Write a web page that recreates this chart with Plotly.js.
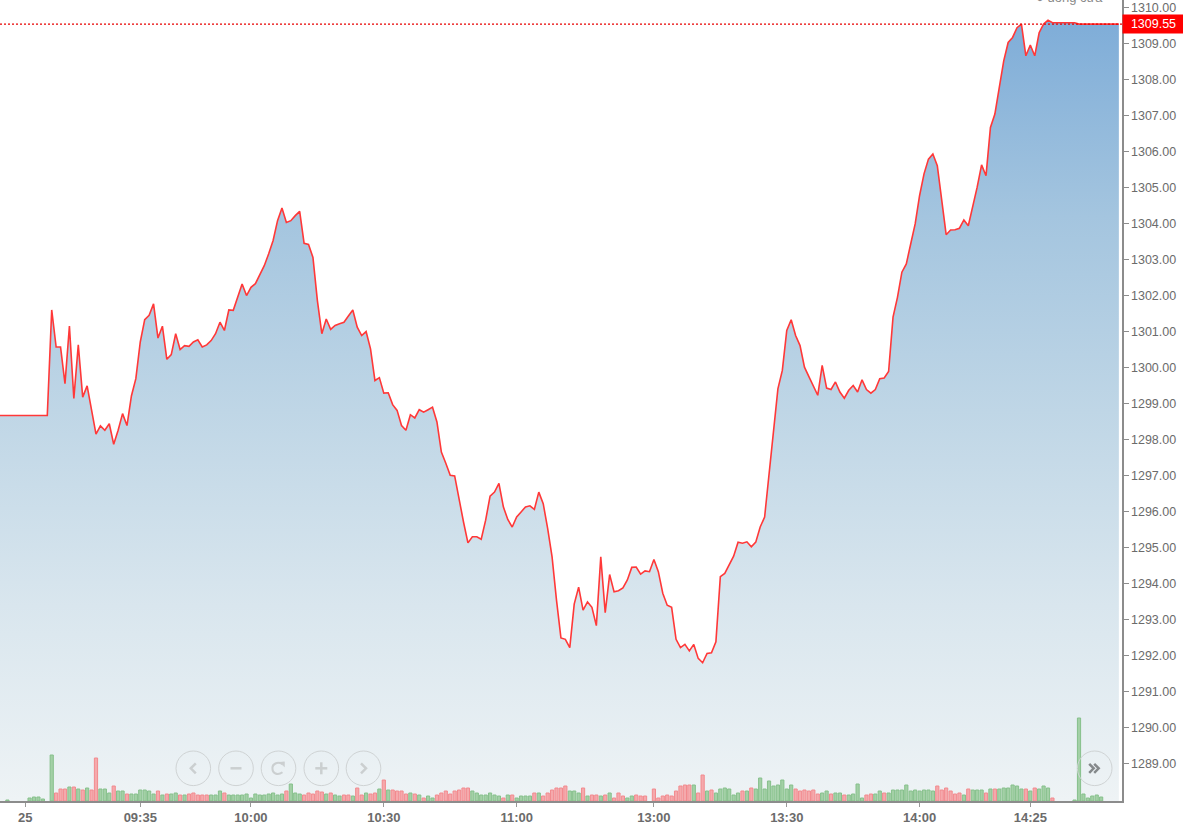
<!DOCTYPE html>
<html>
<head>
<meta charset="utf-8">
<script src="https://cdn.plot.ly/plotly-3.0.1.min.js"></script>
<style>html,body{margin:0;padding:0;background:#fff;overflow:hidden}#chart{width:1183px;height:826px}</style>
</head>
<body>
<div id="chart"></div>
<script>
// One value per minute slot.
const price = [
1298.68,1298.68,1298.68,1298.68,1298.68,1298.68,1298.68,1298.68,1298.68,1298.68,1298.68,1298.68,
1301.61,1300.58,1300.58,1299.56,1301.16,1299.15,1300.64,1299.19,1299.5,1298.82,
1298.16,1298.39,1298.27,1298.45,1297.88,1298.27,1298.73,1298.4,1299.22,1299.7,
1300.72,1301.34,1301.46,1301.78,1300.83,1301.16,1300.24,1300.37,1300.95,1300.51,
1300.62,1300.6,1300.72,1300.78,1300.58,1300.64,1300.76,1300.95,1301.27,1301.04,
1301.61,1301.6,1301.96,1302.33,1302.01,1302.24,1302.34,1302.57,1302.84,1303.17,
1303.54,1304.09,1304.44,1304.04,1304.09,1304.23,1304.35,1303.46,1303.43,1303.07,
1301.87,1300.95,1301.36,1301.07,1301.18,1301.23,1301.27,1301.44,1301.61,1301.13,
1300.9,1301.01,1300.53,1299.65,1299.73,1299.3,1299.31,1298.98,1298.82,1298.4,
1298.27,1298.7,1298.61,1298.84,1298.77,1298.84,1298.91,1298.5,1297.66,1297.35,
1297.02,1297.0,1296.32,1295.72,1295.14,1295.31,1295.31,1295.24,1295.77,1296.44,
1296.55,1296.79,1296.14,1295.79,1295.58,1295.86,1296.0,1296.14,1296.17,1296.07,
1296.55,1296.23,1295.54,1294.75,1293.55,1292.5,1292.46,1292.23,1293.44,1293.91,
1293.27,1293.5,1293.35,1292.84,1294.75,1293.2,1294.26,1293.78,1293.81,1293.89,
1294.11,1294.46,1294.47,1294.27,1294.36,1294.34,1294.68,1294.34,1293.74,1293.41,
1293.35,1292.46,1292.23,1292.32,1292.14,1292.32,1291.93,1291.81,1292.07,1292.09,
1292.39,1294.2,1294.29,1294.55,1294.77,1295.16,1295.13,1295.17,1295.03,1295.16,
1295.58,1295.86,1297.07,1298.36,1299.42,1299.93,1301.04,1301.34,1300.9,1300.62,
1300.02,1299.76,1299.51,1299.24,1300.07,1299.44,1299.4,1299.61,1299.33,1299.16,
1299.38,1299.51,1299.33,1299.67,1299.4,1299.3,1299.4,1299.7,1299.72,1299.9,
1301.41,1301.96,1302.66,1302.89,1303.45,1304.0,1304.79,1305.39,1305.8,1305.94,
1305.62,1304.65,1303.7,1303.83,1303.84,1303.88,1304.11,1303.95,1304.46,1305.02,
1305.64,1305.34,1306.68,1307.05,1307.79,1308.53,1309.04,1309.18,1309.45,1309.55,
1308.67,1308.97,1308.67,1309.31,1309.55,1309.66,1309.59,1309.59,1309.59,1309.59,
1309.59,1309.59,1309.55,1309.55,1309.55,1309.55,1309.55,1309.55,1309.55,1309.55,
1309.55,1309.55
];
// Positive: green bar, negative: red bar, 0: no bar.
const signedVolume = [
0,0,1,0,0,0,0,3,4,4,2,0,46,-8,-12,-12,14,-14,12,-11,13,-11,-43,12,12,8,-15,10,10,-7,7,7,
11,11,10,7,-10,6,-7,7,8,-6,6,-7,-8,-6,-6,-6,6,6,10,-8,6,6,6,6,7,3,7,6,6,7,8,6,7,-10,17,8,7,-6,-8,-7,-10,-9,7,-8,6,5,-6,-6,5,-13,-6,8,-7,-8,12,-21,11,-11,-10,
-10,-7,8,-7,6,-3,5,3,-6,-8,-10,-7,-10,-11,-13,-13,10,8,6,6,8,6,5,-3,6,-6,3,5,5,5,-8,8,-5,-8,-11,-13,-13,-15,10,10,8,-13,5,-6,-6,5,-6,8,-3,-8,-5,3,5,-6,-5,-5,0,
-12,-3,-5,-6,-5,-10,-15,-16,-16,16,-8,-26,10,-11,8,12,13,12,6,8,-10,10,-13,12,23,12,20,15,16,21,12,16,-12,
-10,-11,-10,-11,-7,8,10,-7,8,8,-6,6,7,17,3,-6,-7,7,10,-8,8,11,11,11,16,10,11,10,11,11,10,-15,-11,-13,-10,-7,-8,6,-12,11,11,11,-8,12,-12,12,13,13,16,15,12,-12,10,-13,12,15,13,-3,
0,0,0,0,1,83,7,3,5,6,4
];
const lastPrice = 1309.55;
const tickSlots = [6,32,57,87,117,148,178,208,233];
const tickLabels = ["<b>25</b>","09:35","10:00","10:30","11:00","13:00","13:30","14:00","14:25"];
const priceTicks = [1289,1290,1291,1292,1293,1294,1295,1296,1297,1298,1299,1300,1301,1302,1303,1304,1305,1306,1307,1308,1309,1310];

const slots = price.map((_, i) => i);
const barsOf = test => {
  const x = [], y = [];
  signedVolume.forEach((v, i) => { if (test(v)) { x.push(i); y.push(Math.abs(v)); } });
  return {x, y};
};
const greenBars = barsOf(v => v > 0), redBars = barsOf(v => v < 0);
const W = 1122, H = 801;
const px = v => v / W, py = v => (H - v) / H;

const traces = [
  {type:"scatter", mode:"lines", x:slots, y:price, fill:"tozeroy",
   fillgradient:{type:"vertical", start:1309.6, stop:1288,
     colorscale:[[0,"#7fadd8"],[0.25,"#a4c5df"],[0.5,"#bfd6e6"],[0.75,"#d9e6ee"],[1,"#eef3f5"]]},
   line:{color:"#ff3838", width:1.6}, hoverinfo:"skip", yaxis:"y"},
  {type:"bar", x:greenBars.x, y:greenBars.y, yaxis:"y2", width:0.72,
   marker:{color:"#a3d0a6", line:{color:"#86c08b", width:1}}, hoverinfo:"skip"},
  {type:"bar", x:redBars.x, y:redBars.y, yaxis:"y2", width:0.72,
   marker:{color:"#f5a9ac", line:{color:"#f28a8e", width:1}}, hoverinfo:"skip"}
];

// Navigation buttons: circle centres and their icons, in pixels relative to the centre.
const buttonCy = 768.3, buttonR = 17.3;
const buttonCx = [193.3,236,278.5,321.3,363.5,1094.7];
const buttonIcons = [
  [[[2.5,-5],[-2.5,0],[2.5,5]]],
  [[[-5.5,0],[5.5,0]]],
  null,
  [[[-6,0],[6,0]],[[0,-6],[0,6]]],
  [[[-2.5,-5],[2.5,0],[-2.5,5]]],
  [[[-5.5,-4.5],[-1,0],[-5.5,4.5]],[[-0.5,-4.5],[4,0],[-0.5,4.5]]]
];
const P = (x,y) => px(x)+","+py(y);
const shapes = [];
buttonCx.forEach((c,i) => {
  shapes.push({type:"circle", xref:"paper", yref:"paper",
    x0:px(c-buttonR), x1:px(c+buttonR), y0:py(buttonCy+buttonR), y1:py(buttonCy-buttonR),
    line:{color:"#cfd3d4", width:1}, fillcolor:"rgba(0,0,0,0)"});
  const col = i===5 ? "#85898b" : "#cbcfd0";
  if (buttonIcons[i]) {
    buttonIcons[i].forEach(pl => shapes.push({type:"path", xref:"paper", yref:"paper",
      path:"M "+pl.map(p=>P(c+p[0],buttonCy+p[1])).join(" L "), line:{color:col, width:2.5}}));
  } else {
    const y=buttonCy;
    shapes.push({type:"path", xref:"paper", yref:"paper",
      path:"M "+P(c+4,y-4)+" C "+P(c-1,y-7.5)+" "+P(c-6.5,y-4)+" "+P(c-6,y)+" C "+P(c-6.5,y+5)+" "+P(c-1,y+7.5)+" "+P(c+4,y+4),
      line:{color:col, width:2}});
    shapes.push({type:"path", xref:"paper", yref:"paper", fillcolor:col,
      path:"M "+P(c+1,y-6)+" L "+P(c+6,y-6.5)+" L "+P(c+6,y-1.5)+" Z", line:{color:col, width:0.5}});
  }
});
shapes.push({type:"line", xref:"paper", yref:"y", x0:0, x1:1, y0:lastPrice, y1:lastPrice,
  line:{color:"#e80000", width:1.2, dash:"2px,2px"}});

const annotations = [];
annotations.push({xref:"paper", yref:"y", x:1, xanchor:"left", y:lastPrice, yanchor:"middle",
  text:"1309.55", showarrow:false, bgcolor:"#ff0000", width:61, height:18, borderpad:0, align:"center",
  font:{family:"Liberation Sans", size:12.5, color:"#ffffff"}});
annotations.push({xref:"paper", yref:"paper", x:px(1034), xanchor:"left", y:py(-2), yanchor:"middle",
  text:"● đóng cửa", showarrow:false,
  font:{family:"Liberation Sans", size:13, color:"#8a8a8a"}});

const layout = {
  width:1183, height:826, margin:{l:0, r:61, t:0, b:25, pad:0},
  paper_bgcolor:"#ffffff", plot_bgcolor:"#ffffff", showlegend:false, barmode:"overlay",
  xaxis:{range:[0.3225,253.71], showgrid:false, zeroline:false, tickmode:"array",
    tickvals:tickSlots, ticktext:tickLabels, ticks:"outside", ticklen:4, tickcolor:"#999",
    showline:true, linecolor:"#8c8c8c", linewidth:1.5,
    tickfont:{family:"Liberation Sans", size:13, color:"#6b6b6b", weight:"bold"}},
  yaxis:{range:[1287.97,1310.22], side:"right", showgrid:false, zeroline:false, tickmode:"array",
    tickvals:priceTicks, ticktext:priceTicks.map(v=>v.toFixed(2)), ticks:"outside", ticklen:5, tickcolor:"#8c8c8c",
    showline:true, linecolor:"#8c8c8c", linewidth:1.5,
    tickfont:{family:"Liberation Sans", size:12.5, color:"#6b6b6b"}},
  yaxis2:{range:[0,801], overlaying:"y", side:"left", visible:false, fixedrange:true},
  shapes, annotations
};
Plotly.newPlot("chart", traces, layout, {displayModeBar:false, staticPlot:true});
</script>
</body>
</html>
